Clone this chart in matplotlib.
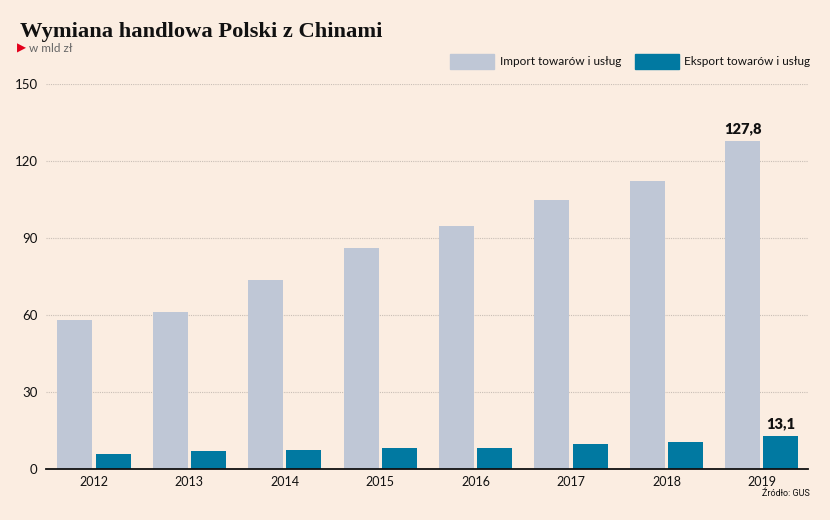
import matplotlib
matplotlib.use("Agg")
import matplotlib.pyplot as plt
from matplotlib.patches import Rectangle

years = ["2012", "2013", "2014", "2015", "2016", "2017", "2018", "2019"]
imports = [58.0, 61.4, 73.8, 86.0, 94.8, 104.7, 112.4, 127.8]
exports = [6.1, 7.0, 7.7, 8.4, 8.2, 9.8, 10.6, 13.1]
yticks = [0, 30, 60, 90, 120, 150]
title = "Wymiana handlowa Polski z Chinami"
subtitle = "w mld zł"
legend_labels = ["Import towarów i usług", "Eksport towarów i usług"]
source = "Źródło: GUS"

BG = "#FBEDE1"
C_IMP = "#BFC7D6"
C_EXP = "#0179A1"
FONT = ["Lato", "DejaVu Sans"]

fig = plt.figure(figsize=(8.3, 5.2), dpi=100, facecolor=BG)
ax = fig.add_axes([46/830, 1-469.3/520, (808-46)/830, (469.3-84)/520])
ax.set_facecolor(BG)

x = list(range(len(years)))
w = 0.367
off = 0.2
ax.bar([i - off for i in x], imports, width=w, color=C_IMP, zorder=3)
ax.bar([i + off for i in x], exports, width=w, color=C_EXP, zorder=3)

ax.set_xlim(-0.503, 7.484)
ax.set_ylim(0, 150)
ax.set_yticks(yticks)
ax.set_yticklabels([str(t) for t in yticks], family=FONT, fontsize=9.5, color="#111111")
ax.set_xticks(x)
ax.set_xticklabels(years, family=FONT, fontsize=9, color="#111111")
ax.tick_params(axis="both", length=0)
ax.tick_params(axis="y", pad=6)
ax.tick_params(axis="x", pad=5)
for t in yticks[1:]:
    ax.axhline(t, color="#C9BFB6", lw=0.8, ls=(0, (1, 1)), zorder=1)
for s in ["top", "right", "left"]:
    ax.spines[s].set_visible(False)
ax.spines["bottom"].set_color("#111111")
ax.spines["bottom"].set_linewidth(1.3)
ax.spines["bottom"].set_zorder(4)

ax.annotate("127,8", (7 - off, imports[-1]), xytext=(0, 4), textcoords="offset points",
            ha="center", va="bottom", family=FONT, fontsize=10.5, fontweight="heavy", color="#111111")
ax.annotate("13,1", (7 + off, exports[-1]), xytext=(0, 4), textcoords="offset points",
            ha="center", va="bottom", family=FONT, fontsize=10.5, fontweight="heavy", color="#111111")

fig.text(20/830, 1-37/520, title, family=["Liberation Serif", "DejaVu Serif"], fontweight="bold",
         fontsize=16.2, color="#111111", va="baseline")
fig.text(17/830, 1-48/520, "\u25B6", family=["DejaVu Sans"], fontsize=8.5, color="#E3001B", va="center")
fig.text(29/830, 1-48/520, subtitle, family=FONT, fontsize=8.5, color="#666666", va="center")

# legend
fig.patches.append(Rectangle((450/830, 1-69/520), 44/830, 15/520, transform=fig.transFigure,
                             color=C_IMP, figure=fig))
fig.text(500/830, 1-61.5/520, legend_labels[0], family=FONT, fontsize=8.5, color="#111111", va="center")
fig.patches.append(Rectangle((635/830, 1-69/520), 44/830, 15/520, transform=fig.transFigure,
                             color=C_EXP, figure=fig))
fig.text(684/830, 1-61.5/520, legend_labels[1], family=FONT, fontsize=8.5, color="#111111", va="center")

fig.text(810/830, 1-493/520, source, family=["Roboto", "DejaVu Sans"], fontsize=6.5,
         color="#111111", ha="right", va="center", fontstretch="condensed")

fig.savefig("out.png", dpi=100, facecolor=BG)
